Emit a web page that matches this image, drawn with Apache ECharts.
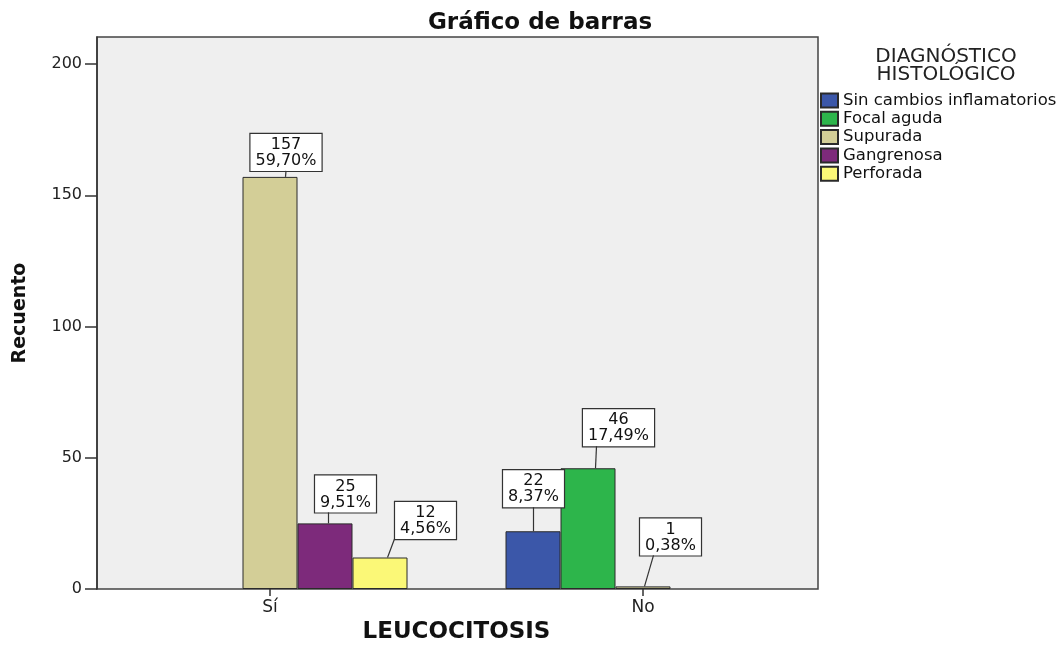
<!DOCTYPE html>
<html>
<head>
<meta charset="utf-8">
<script src="https://cdn.jsdelivr.net/npm/echarts@6/dist/echarts.min.js"></script>
<style>
  html, body { margin: 0; padding: 0; background: #fff; }
  #chart { width: 1064px; height: 652px; }
</style>
</head>
<body>
<div id="chart"></div>
<script>
// datos
const categorias = ['Sí', 'No'];
const sinCambios = [0, 22];
const focalAguda = [0, 46];
const supurada = [157, 1];
const gangrenosa = [25, 0];
const perforada = [12, 0];
const yTicks = [0, 50, 100, 150, 200];

const nombres = ['Sin cambios inflamatorios', 'Focal aguda', 'Supurada', 'Gangrenosa', 'Perforada'];
const colores = ['#3b57a9', '#2db54b', '#d3ce97', '#7d2a7b', '#fbf877'];
const valores = [sinCambios, focalAguda, supurada, gangrenosa, perforada];

// ajuste de etiquetas [serie][categoria] -> [dx, dy, px de la línea desde el borde izq. de la barra, px desde el centro de la caja]
const ajustes = [
  [null, [0.5, -24, 28, 0]],
  [null, [30.5, -22, 35, -22]],
  [[16, -6, 43, 0], [27.5, -31, 29, -17]],
  [[20.5, -11, 31, -17], null],
  [[45.5, -18.5, 35, -31], null],
];

const BAR_W = 55;
const total = valores.reduce((s, arr) => s + arr.reduce((a, b) => a + b, 0), 0);
const FONT = 'DejaVu Sans';
const YMAX = 210.3;

const myChart = echarts.init(document.getElementById('chart'));

const series = valores.map((arr, i) => ({
  name: nombres[i],
  type: 'bar',
  xAxisIndex: 0,
  yAxisIndex: 0,
  barWidth: BAR_W,
  barGap: '0%',
  z: 2,
  itemStyle: { color: colores[i], borderColor: '#2a2a2a', borderWidth: 1 },
  data: arr.map(v => (v === 0 ? null : v)),
  label: {
    show: true,
    position: 'top',
    distance: 0,
    formatter: p => p.value + '\n' + (p.value / total * 100).toFixed(2).replace('.', ',') + '%',
    fontFamily: FONT,
    fontSize: 16,
    lineHeight: 16,
    color: '#111',
    backgroundColor: '#fff',
    borderColor: '#333',
    borderWidth: 1.2,
    padding: [3, 5, 2, 5],
  },
  labelLayout: p => {
    const a = ajustes[p.seriesIndex][p.dataIndex];
    return a ? { dx: a[0], dy: a[1] } : {};
  },
}));

// líneas guía de las etiquetas
const guias = [];
valores.forEach((arr, s) => arr.forEach((v, c) => {
  if (v) guias.push([c, v, s]);
}));

series.push({
  type: 'custom',
  xAxisIndex: 0,
  yAxisIndex: 0,
  z: 3,
  silent: true,
  data: guias,
  renderItem: (params, api) => {
    const s = api.value(2);
    const a = ajustes[s][api.value(0)];
    const p = api.coord([api.value(0), api.value(1)]);
    const barCx = p[0] + (s - 2) * BAR_W;
    const bx = barCx - BAR_W / 2 + a[2];
    const lx = barCx + a[0] + a[3];
    const ly = p[1] + a[1];
    return {
      type: 'line',
      shape: { x1: bx, y1: p[1], x2: lx, y2: ly },
      style: { stroke: '#333', lineWidth: 1.2 },
    };
  },
});

const option = {
  animation: false,
  backgroundColor: '#fff',
  title: [
    {
      text: 'Gráfico de barras',
      left: 535, top: 7, textAlign: 'center',
      textStyle: { fontFamily: FONT, fontSize: 23, fontWeight: 'bold', color: '#111' },
    },
    {
      text: 'DIAGNÓSTICO\nHISTOLÓGICO',
      left: 941, top: 43, textAlign: 'center',
      textStyle: { fontFamily: FONT, fontSize: 20, fontWeight: 'normal', lineHeight: 18, color: '#222' },
    },
  ],
  legend: {
    orient: 'vertical',
    left: 815, top: 87,
    icon: 'rect',
    itemWidth: 17, itemHeight: 14, itemGap: 1.3,
    textStyle: { fontFamily: FONT, fontSize: 16.5, lineHeight: 14, color: '#111' },
    data: nombres,
  },
  grid: [
    { left: 83.5, width: 746, top: 37, height: 552, show: false, outerBoundsMode: 'none', containLabel: false },
    { left: 97, width: 721, top: 37, height: 552, show: true, backgroundColor: '#efefef', borderColor: '#444', borderWidth: 1.5, z: 0, outerBoundsMode: 'none', containLabel: false },
  ],
  xAxis: [
    {
      type: 'category', gridIndex: 0, data: categorias,
      axisLine: { show: false },
      axisTick: { show: true, alignWithLabel: true, length: 7, lineStyle: { color: '#333', width: 1.5 } },
      axisLabel: { fontFamily: FONT, fontSize: 17, color: '#222', margin: 10 },
      name: 'LEUCOCITOSIS', nameLocation: 'middle', nameGap: 31,
      nameTextStyle: { fontFamily: FONT, fontSize: 23, fontWeight: 'bold', color: '#111' },
    },
    { type: 'value', gridIndex: 1, show: false },
  ],
  yAxis: [
    { type: 'value', gridIndex: 0, min: 0, max: YMAX, show: false },
    {
      type: 'value', gridIndex: 1, min: 0, max: YMAX,
      axisLine: { show: true, lineStyle: { color: '#333', width: 1.5 } },
      axisTick: { show: true, length: 12, customValues: yTicks, lineStyle: { color: '#333', width: 1.5 } },
      axisLabel: { fontFamily: FONT, fontSize: 16, color: '#222', margin: 15, customValues: yTicks },
      splitLine: { show: false },
      name: 'Recuento', nameLocation: 'middle', nameRotate: 90, nameGap: 67,
      nameTextStyle: { fontFamily: FONT, fontSize: 19, fontWeight: 'bold', color: '#111' },
    },
  ],
  series: series,
};

if (option && typeof option === 'object') {
  myChart.setOption(option, true);
}
</script>
</body>
</html>
